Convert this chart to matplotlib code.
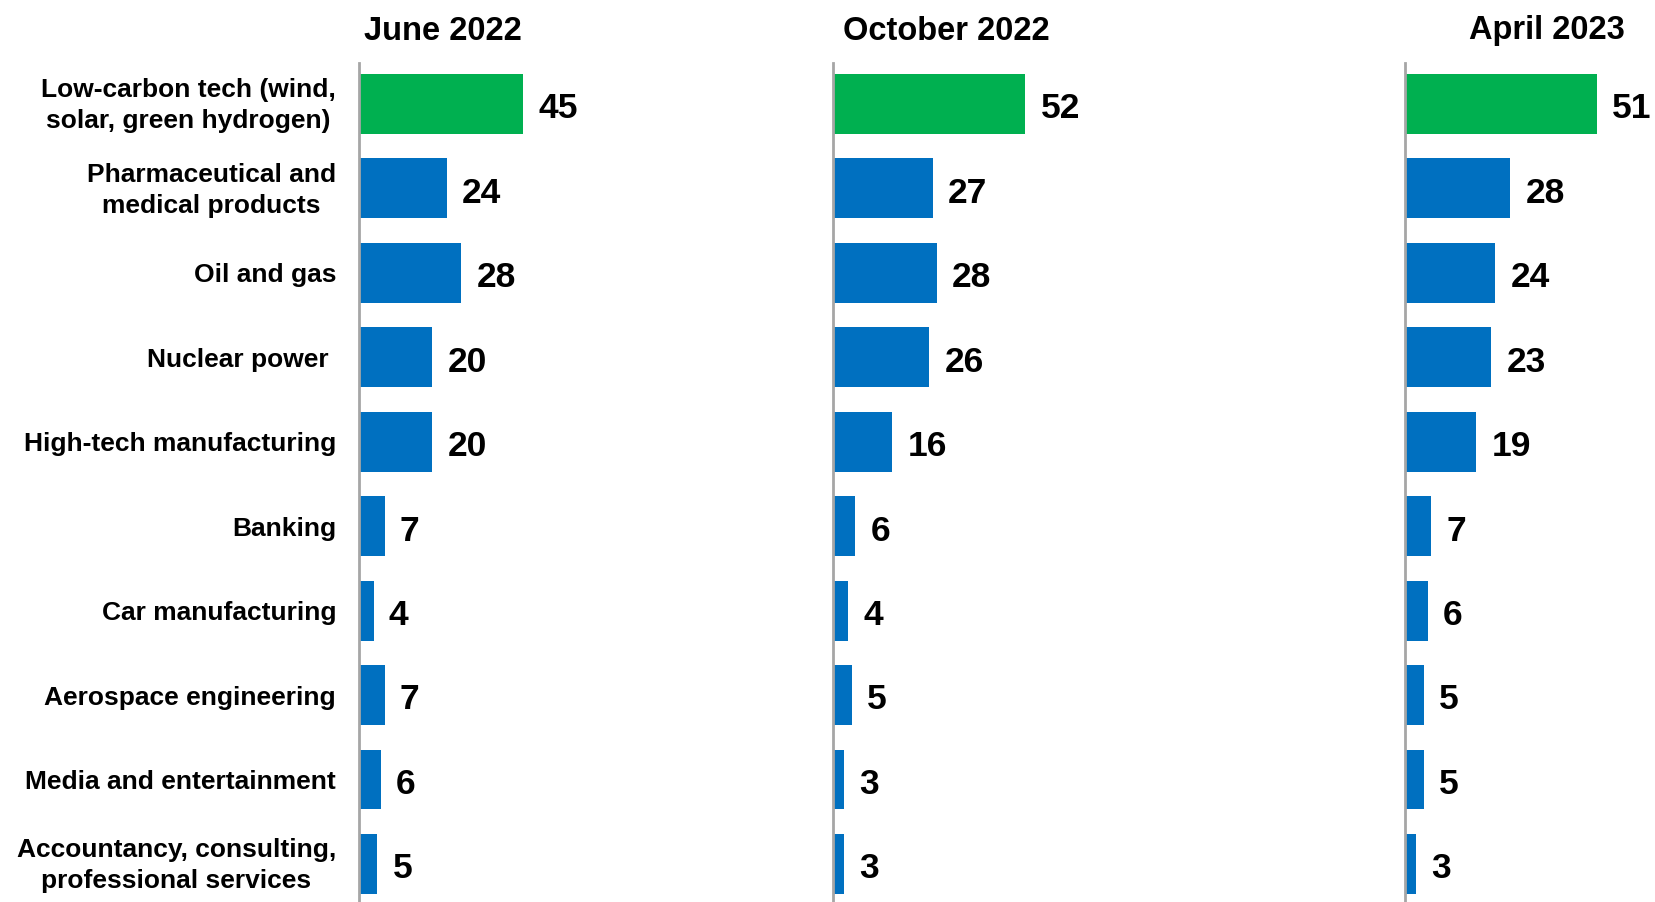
import matplotlib
matplotlib.use("Agg")
import matplotlib.pyplot as plt
from matplotlib.transforms import ScaledTranslation

# data
categories = [
    "Low-carbon tech (wind,\nsolar, green hydrogen)",
    "Pharmaceutical and\nmedical products",
    "Oil and gas",
    "Nuclear power ",
    "High-tech manufacturing",
    "Banking",
    "Car manufacturing",
    "Aerospace engineering",
    "Media and entertainment",
    "Accountancy, consulting,\nprofessional services",
]
periods = ["June 2022", "October 2022", "April 2023"]
june_2022 = [45, 24, 28, 20, 20, 7, 4, 7, 6, 5]
october_2022 = [52, 27, 28, 26, 16, 6, 4, 5, 3, 3]
april_2023 = [51, 28, 24, 23, 19, 7, 6, 5, 5, 3]
series = [june_2022, october_2022, april_2023]

GREEN = "#00B050"
BLUE = "#0070C0"
FONT = "Liberation Sans"

W, H = 1655, 902
fig = plt.figure(figsize=(W / 100, H / 100), dpi=100)

# layout in pixels: axis x position, px per unit, title centre x
axis_x = [359, 833, 1405]
px_per_unit = [3.65, 3.70, 3.76]
title_x = [443, 946, 1547]
ax_w = 250
top_px, first_c, step = 63, 104, 84.44

for i, (vals, name) in enumerate(zip(series, periods)):
    ax = fig.add_axes([axis_x[i] / W, 0, ax_w / W, 1 - top_px / H])
    ypos = list(range(len(categories)))
    colors = [GREEN] + [BLUE] * (len(vals) - 1)
    bars = ax.barh(ypos, vals, height=0.71, color=colors)
    ax.set_xlim(0, ax_w / px_per_unit[i])
    ax.set_ylim(9 + (H - first_c - 9 * step) / step, (top_px - first_c) / step)
    for b, v in zip(bars, vals):
        ax.annotate(str(v), (b.get_width(), b.get_y() + b.get_height() / 2),
                    xytext=(11, -3.5), textcoords="offset points",
                    ha="left", va="center", fontsize=25.5, fontweight="bold",
                    family=FONT, annotation_clip=False)
    for s in ["top", "right", "bottom"]:
        ax.spines[s].set_visible(False)
    ax.spines["left"].set_color("#A6A6A6")
    ax.spines["left"].set_linewidth(2)
    ax.set_xticks([])
    ax.set_yticks(ypos)
    if i == 0:
        labels = ax.set_yticklabels(categories, fontsize=19, fontweight="bold",
                                    family=FONT, multialignment="center",
                                    linespacing=1.35)
        ax.tick_params(axis="y", length=0, pad=16.5)
        # nudge two-line labels up a little
        for lab in labels:
            if "\n" in lab.get_text():
                lab.set_transform(lab.get_transform() +
                                  ScaledTranslation(0, 4 / 100, fig.dpi_scale_trans))
    else:
        ax.set_yticklabels([])
        ax.tick_params(axis="y", length=0)
    fig.text(title_x[i] / W, 1 - 31 / H, name, ha="center", va="center",
             fontsize=23.5, fontweight="bold", family=FONT)

fig.savefig("out.png", dpi=100, facecolor="white")
